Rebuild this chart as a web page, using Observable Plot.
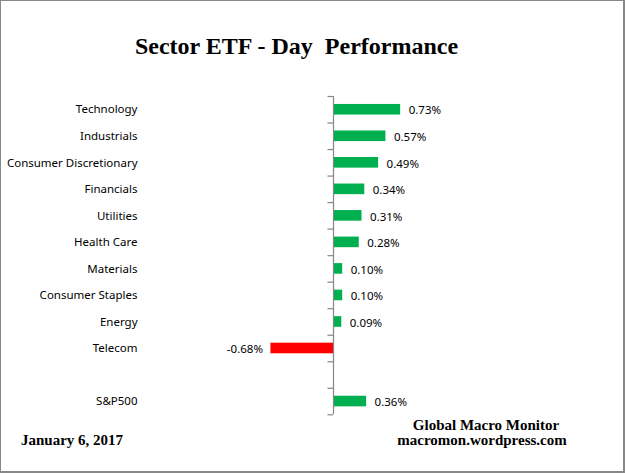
<!DOCTYPE html>
<html>
<head>
<meta charset="utf-8">
<script src="https://cdn.jsdelivr.net/npm/d3@7"></script>
<script src="https://cdn.jsdelivr.net/npm/@observablehq/plot@0.6"></script>
<style>
  html, body { margin: 0; padding: 0; background: #fff; }
  #wrap { position: relative; width: 625px; height: 473px; overflow: hidden; background: #fff; }
  #wrap svg { position: absolute; left: 0; top: 0; }
  .serif { position: absolute; font-family: "Liberation Serif", "Times New Roman", serif; font-weight: bold; color: #000; white-space: pre; }
  #title { left: 0; width: 593px; top: 34px; font-size: 24px; line-height: 24px; text-align: center; }
  #src1 { left: 386px; width: 200px; top: 418px; font-size: 15px; line-height: 15px; text-align: center; }
  #src2 { left: 382px; width: 200px; top: 433px; font-size: 15px; line-height: 15px; text-align: center; }
  #date { left: 21px; top: 433px; font-size: 15px; line-height: 15px; }
  #border { position: absolute; left: 0; top: 0; width: 625px; height: 473px; box-sizing: border-box;
            border-top: 1px solid #888; border-left: 1px solid #888; border-right: 2px solid #888; border-bottom: 2px solid #888; pointer-events: none; }
</style>
</head>
<body>
<div id="wrap">
  <div id="title" class="serif">Sector ETF - Day  Performance</div>
  <div id="src1" class="serif">Global Macro Monitor</div>
  <div id="src2" class="serif">macromon.wordpress.com</div>
  <div id="date" class="serif">January 6, 2017</div>
  <div id="border"></div>
</div>
<script>
const sectors = ["Technology", "Industrials", "Consumer Discretionary", "Financials", "Utilities",
                 "Health Care", "Materials", "Consumer Staples", "Energy", "Telecom"];
const sectorValues = [0.73, 0.57, 0.49, 0.34, 0.31, 0.28, 0.10, 0.10, 0.09, -0.68];
const benchmark = "S&P500";
const benchmarkValue = 0.36;
const spacer = " ";

const rows = sectors.map((name, i) => ({name, value: sectorValues[i]}))
  .concat([{name: benchmark, value: benchmarkValue}]);
const yDomain = [...sectors, spacer, benchmark];

const W = 625, H = 473;
const mTop = 96, mBottom = 58.7, mLeft = 333, mRight = 16;
const xMax = 3;
const pxPerUnit = (W - mLeft - mRight) / xMax;
const step = (H - mTop - mBottom) / yDomain.length;
const tickLen = 5.5 / pxPerUnit;
const axisColor = "#868686";
const green = "#00B050", red = "#FF0000";

const chart = Plot.plot({
  width: W,
  height: H,
  marginTop: mTop,
  marginBottom: mBottom,
  marginLeft: mLeft,
  marginRight: mRight,
  style: {fontFamily: "'Noto Sans', sans-serif", fontSize: "11.5px", background: "transparent", color: "#000"},
  x: {domain: [0, xMax], axis: null},
  y: {domain: yDomain, paddingInner: 0.6, paddingOuter: 0.3, round: false, axis: null, label: null},
  marks: [
    Plot.barX(rows, {x: "value", y: "name", fill: d => d.value < 0 ? red : green}),
    Plot.ruleX([0], {stroke: axisColor, strokeWidth: 1.2}),
    Plot.ruleY(yDomain, {y: d => d, x1: -tickLen, x2: 0, dy: -step / 2, stroke: axisColor, strokeWidth: 1.2}),
    Plot.ruleY([benchmark], {y: d => d, x1: -tickLen, x2: 0, dy: step / 2, stroke: axisColor, strokeWidth: 1.2}),
    Plot.axisY({tickSize: 0, tickPadding: 196, tickFormat: d => d.trim(), fontSize: 11.5, fill: "#000", label: null}),
    Plot.text(rows.filter(d => d.value >= 0), {x: "value", y: "name", text: d => d.value.toFixed(2) + "%", textAnchor: "start", dx: 8, dy: 1, fill: "#000"}),
    Plot.text(rows.filter(d => d.value < 0), {x: "value", y: "name", text: d => d.value.toFixed(2) + "%", textAnchor: "end", dx: -8, dy: 1, fill: "#000"})
  ]
});
document.getElementById("wrap").insertBefore(chart, document.getElementById("title"));
</script>
</body>
</html>
